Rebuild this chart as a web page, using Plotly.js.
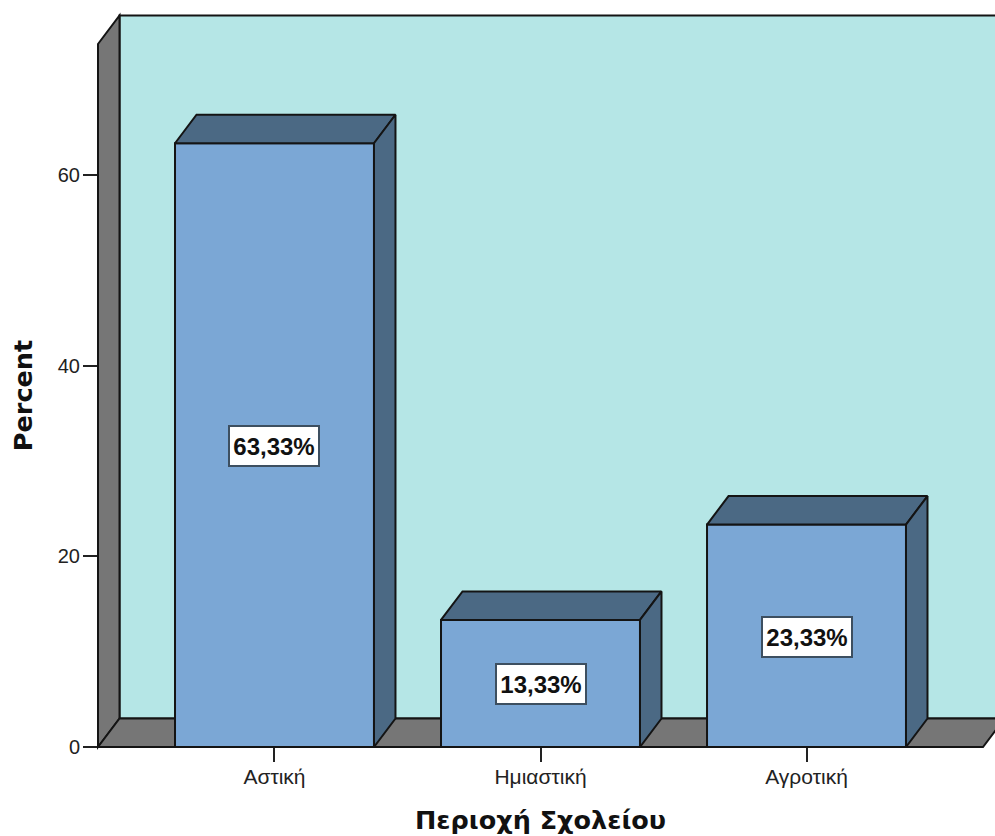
<!DOCTYPE html>
<html>
<head>
<meta charset="utf-8">
<script src="https://cdn.plot.ly/plotly-3.0.1.min.js"></script>
<style>html,body{margin:0;padding:0;background:#fff;overflow:hidden}</style>
</head>
<body>
<div id="chart"></div>
<script>
// School area distribution, drawn as an extruded bar chart
const categories = ["Αστική", "Ημιαστική", "Αγροτική"];
const percents = [63.33, 13.33, 23.33];
const valueLabels = ["63,33%", "13,33%", "23,33%"];
const yTicks = [0, 20, 40, 60];

const W = 995, H = 836;
const margin = {l: 98, r: 12, t: 44, b: 89, pad: 0};
const plotW = W - margin.l - margin.r;
const plotH = H - margin.t - margin.b;

const xRange = [-0.6635, 2.6635];
const yRange = [0, 73.74];
const barWidth = 0.748;

// Extrusion depth, in pixels
const depthPx = {x: 21.5, y: 28.5};
const dx = depthPx.x / plotW * (xRange[1] - xRange[0]);
const dy = depthPx.y / plotH * (yRange[1] - yRange[0]);
const dxP = depthPx.x / plotW;
const dyP = depthPx.y / plotH;

const edge = "#141414";
const wallColor = "#B5E6E6";
const sideColor = "#767676";
const frontColor = "#7BA7D5";
const faceColor = "#4B6984";

// Top and right faces of each bar, as closed polygons separated by gaps
const topX = [], topY = [], sideX = [], sideY = [];
percents.forEach((v, i) => {
  const l = i - barWidth / 2, r = i + barWidth / 2;
  topX.push(l, l + dx, r + dx, r, l, null);
  topY.push(v, v + dy, v + dy, v, v, null);
  sideX.push(r, r + dx, r + dx, r, r, null);
  sideY.push(v, v + dy, dy, 0, v, null);
});
const faceTrace = (x, y) => ({
  type: "scatter", mode: "lines", x, y, fill: "toself", fillcolor: faceColor,
  line: {color: edge, width: 2}, cliponaxis: false, hoverinfo: "skip", showlegend: false
});

const traces = [
  {
    type: "bar", x: [0, 1, 2], y: percents, width: barWidth,
    marker: {color: frontColor, line: {color: edge, width: 2}},
    cliponaxis: false, hoverinfo: "skip", showlegend: false
  },
  faceTrace(topX, topY),
  faceTrace(sideX, sideY)
];

// Back wall, left wall and floor of the chart box
const panel = (d, fill) => ({
  type: "path", xref: "paper", yref: "paper", layer: "below", path: d,
  fillcolor: fill, line: {color: edge, width: 2}
});
const shapes = [
  panel(`M ${dxP} ${dyP} L ${1 + dxP} ${dyP} L ${1 + dxP} ${1 + dyP} L ${dxP} ${1 + dyP} Z`, wallColor),
  panel(`M 0 0 L ${dxP} ${dyP} L ${dxP} ${1 + dyP} L 0 1 Z`, sideColor),
  panel(`M 0 0 L ${dxP} ${dyP} L ${1 + dxP} ${dyP} L 1 0 Z`, sideColor)
];

const annotations = percents.map((v, i) => ({
  x: i, y: v / 2, xref: "x", yref: "y", yshift: -1, showarrow: false,
  text: "<b>" + valueLabels[i] + "</b>",
  font: {family: "Liberation Sans, Arial, sans-serif", size: 24, color: "#111"},
  bgcolor: "#ffffff", bordercolor: "#3d4f60", borderwidth: 2,
  width: 86, height: 36, align: "center", valign: "middle"
}));

const labelFamily = "Liberation Sans, Arial, sans-serif";
const titleFont = {family: "DejaVu Sans, Verdana, sans-serif", size: 25.5, color: "#111", weight: 700};

const layout = {
  width: W, height: H, autosize: false, margin,
  paper_bgcolor: "#ffffff", plot_bgcolor: "rgba(0,0,0,0)",
  showlegend: false, shapes, annotations,
  xaxis: {
    type: "linear", range: xRange, tickmode: "array", tickvals: [0, 1, 2], ticktext: categories,
    ticks: "outside", ticklen: 14, tickwidth: 2, tickcolor: "#222", ticklabelstandoff: -3,
    showgrid: false, zeroline: false, showline: false,
    tickfont: {family: labelFamily, size: 21, color: "#222"},
    title: {text: "Περιοχή Σχολείου", font: titleFont, standoff: 23}
  },
  yaxis: {
    range: yRange, tickmode: "array", tickvals: yTicks, ticktext: yTicks.map(String),
    ticks: "outside", ticklen: 14, tickwidth: 2, tickcolor: "#222", ticklabelstandoff: -1,
    showgrid: false, zeroline: false, showline: false,
    tickfont: {family: labelFamily, size: 20, color: "#222"},
    title: {text: "Percent", font: titleFont, standoff: 17}
  }
};

Plotly.newPlot("chart", traces, layout, {displayModeBar: false, staticPlot: true});
</script>
</body>
</html>
